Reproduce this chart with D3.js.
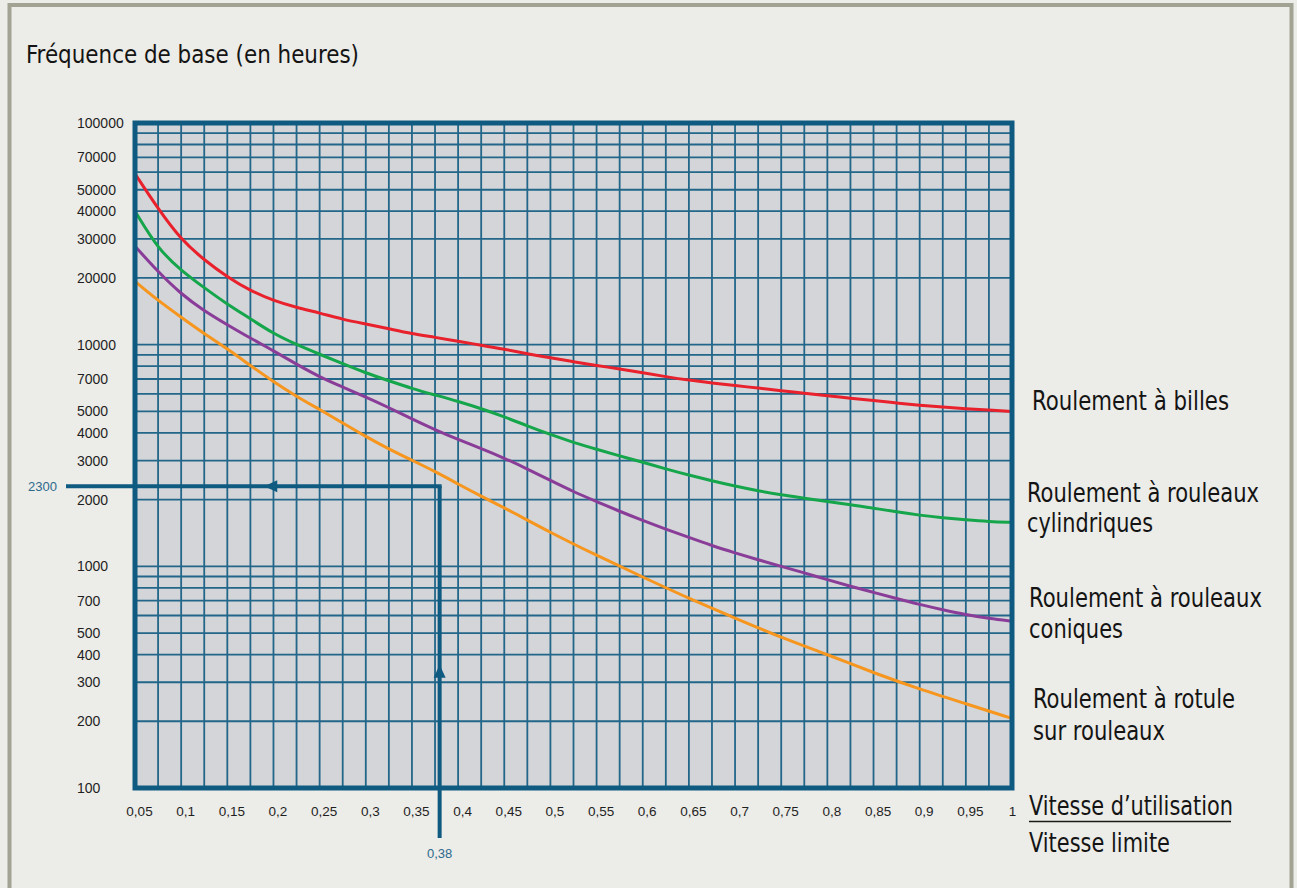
<!DOCTYPE html>
<html>
<head>
<meta charset="utf-8">
<script src="https://cdn.jsdelivr.net/npm/d3@7"></script>
<style>
  html, body { margin: 0; padding: 0; background: #ececE8; }
  svg { display: block; }
</style>
</head>
<body>
<svg id="chart" width="1297" height="888"></svg>
<script>
// ---- data ----------------------------------------------------------------
// x: ratio "vitesse d'utilisation / vitesse limite"; y: base frequency in hours
const ratioSteps = [0.05, 0.075, 0.1, 0.125, 0.15, 0.175, 0.2, 0.225, 0.25, 0.275,
  0.3, 0.325, 0.35, 0.375, 0.4, 0.425, 0.45, 0.475, 0.5, 0.525,
  0.55, 0.575, 0.6, 0.625, 0.65, 0.675, 0.7, 0.725, 0.75, 0.775,
  0.8, 0.825, 0.85, 0.875, 0.9, 0.925, 0.95, 0.975, 1.0];

const billes = [59000, 41000, 29700, 24100, 20200, 17500, 15800, 14700, 13900, 13000,
  12400, 11800, 11200, 10800, 10350, 9950, 9550, 9100, 8720, 8380,
  8050, 7780, 7470, 7170, 6910, 6720, 6540, 6370, 6200, 6040,
  5880, 5740, 5590, 5460, 5330, 5230, 5140, 5070, 5000];

const cylindriques = [40000, 27000, 21600, 18060, 15200, 13100, 11200, 10000, 9050, 8200,
  7450, 6870, 6340, 5930, 5550, 5150, 4730, 4300, 3930, 3620,
  3370, 3150, 2950, 2750, 2580, 2430, 2300, 2190, 2100, 2030,
  1960, 1900, 1830, 1760, 1700, 1655, 1620, 1590, 1580];

const coniques = [27800, 21300, 16900, 14200, 12300, 10700, 9400, 8150, 7150, 6440,
  5800, 5200, 4620, 4130, 3730, 3400, 3080, 2750, 2440, 2170,
  1960, 1770, 1610, 1470, 1350, 1240, 1150, 1070, 1000, 935,
  870, 813, 763, 716, 673, 637, 605, 582, 565];

const ratioRotule = [0.05, 0.075, 0.1, 0.125, 0.15, 0.175, 0.2, 0.225, 0.25, 0.275,
  0.3, 0.325, 0.35, 0.375, 0.4, 0.425, 0.45, 0.5, 0.55, 0.6,
  0.65, 0.7, 0.75, 0.8, 0.85, 0.9, 0.95, 1.0];
const rotule = [19300, 15800, 13300, 11200, 9580, 8050, 6800, 5840, 5100, 4430,
  3850, 3380, 3010, 2680, 2350, 2070, 1840, 1420, 1120, 895,
  716, 584, 477, 400, 331, 279, 240, 206];

const seriesNames = ["Roulement à billes", "Roulement à rouleaux cylindriques",
  "Roulement à rouleaux coniques", "Roulement à rotule sur rouleaux"];
const seriesColors = ["#e8212c", "#15a54b", "#8a3d98", "#f7961e"];

const hourTicks = [100000, 70000, 50000, 40000, 30000, 20000, 10000, 7000, 5000, 4000,
  3000, 2000, 1000, 700, 500, 400, 300, 200, 100];
const ratioTicks = [0.05, 0.1, 0.15, 0.2, 0.25, 0.3, 0.35, 0.4, 0.45, 0.5,
  0.55, 0.6, 0.65, 0.7, 0.75, 0.8, 0.85, 0.9, 0.95, 1];
const ratioTickLabels = ["0,05", "0,1", "0,15", "0,2", "0,25", "0,3", "0,35", "0,4", "0,45", "0,5",
  "0,55", "0,6", "0,65", "0,7", "0,75", "0,8", "0,85", "0,9", "0,95", "1"];

// worked example: ratio 0.38 gives 2300 h
const exampleRatio = 0.38;
const exampleHours = 2300;
const exampleRatioLabel = "0,38";
const exampleHoursLabel = "2300";

// ---- drawing -------------------------------------------------------------
const svg = d3.select("#chart");
const W = 1297, H = 888;
const plot = { left: 135, right: 1012, top: 123, bottom: 788 };

const x = d3.scaleLinear().domain([0.05, 1]).range([plot.left, plot.right]);
const y = d3.scaleLog().domain([100, 100000]).range([plot.bottom, plot.top]);

const gridColor = "#226689";
const frameBlue = "#0e5a80";
const narrow = "'Liberation Sans Narrow', 'DejaVu Sans Condensed', 'Arial Narrow', sans-serif";
const regular = "'Liberation Sans', Arial, sans-serif";

// page background and outer frame
svg.append("rect").attr("width", W).attr("height", H).attr("fill", "#ecece8");
svg.append("rect")
  .attr("x", 9.5).attr("y", 5).attr("width", 1282).attr("height", 900)
  .attr("fill", "none").attr("stroke", "#a2a392").attr("stroke-width", 4);

// title
svg.append("text")
  .attr("x", 26).attr("y", 63)
  .attr("font-family", narrow).attr("font-size", 25).attr("fill", "#141414")
  .attr("textLength", 333).attr("lengthAdjust", "spacingAndGlyphs")
  .text("Fréquence de base (en heures)");

// plot background
svg.append("rect")
  .attr("x", plot.left).attr("y", plot.top)
  .attr("width", plot.right - plot.left).attr("height", plot.bottom - plot.top)
  .attr("fill", "#d3d5d8");

// grid: vertical every 0.025, horizontal at 1..9 x 10^k
const vGrid = d3.range(0, 39).map(i => 0.05 + i * 0.025);
const hGrid = [];
[100, 1000, 10000].forEach(dec => { for (let m = 1; m <= 9; m++) hGrid.push(m * dec); });
hGrid.push(100000);

const grid = svg.append("g").attr("stroke", gridColor).attr("stroke-width", 1.8);
grid.selectAll("line.v").data(vGrid).join("line").attr("class", "v")
  .attr("x1", d => x(d)).attr("x2", d => x(d))
  .attr("y1", plot.top).attr("y2", plot.bottom);
grid.selectAll("line.h").data(hGrid).join("line").attr("class", "h")
  .attr("x1", plot.left).attr("x2", plot.right)
  .attr("y1", d => y(d)).attr("y2", d => y(d));

// y axis labels (left aligned)
const yAxis = d3.axisLeft(y).tickValues(hourTicks).tickFormat(d3.format("d")).tickSize(0);
const yg = svg.append("g").attr("transform", `translate(77,0)`).call(yAxis);
yg.select(".domain").remove();
yg.selectAll("text")
  .attr("x", 0).attr("text-anchor", "start")
  .attr("font-family", regular).attr("font-size", 14).attr("fill", "#1f1f1f");

// x axis labels
const xAxis = d3.axisBottom(x).tickValues(ratioTicks)
  .tickFormat((d, i) => ratioTickLabels[i]).tickSize(0);
const xg = svg.append("g").attr("transform", `translate(0,${plot.bottom})`).call(xAxis);
xg.select(".domain").remove();
xg.selectAll("text")
  .attr("y", 18).attr("dx", (d, i) => i === ratioTicks.length - 1 ? 0 : 4)
  .attr("font-family", regular).attr("font-size", 13.5).attr("fill", "#1f1f1f");

// curves
const line = d3.line().x(d => x(d[0])).y(d => y(d[1])).curve(d3.curveBasis);
const curves = [
  d3.zip(ratioSteps, billes),
  d3.zip(ratioSteps, cylindriques),
  d3.zip(ratioSteps, coniques),
  d3.zip(ratioRotule, rotule)
];
svg.append("g").selectAll("path").data(curves).join("path")
  .attr("d", line)
  .attr("fill", "none")
  .attr("stroke", (d, i) => seriesColors[i])
  .attr("stroke-width", 3)
  .attr("stroke-linecap", "round");

// worked example: horizontal reading line and vertical reading line
const ex = x(exampleRatio), ey = y(exampleHours);
const ann = svg.append("g").attr("stroke", frameBlue).attr("stroke-width", 4).attr("fill", "none");
ann.append("line").attr("x1", 66).attr("x2", ex + 2).attr("y1", ey).attr("y2", ey);
ann.append("line").attr("x1", ex).attr("x2", ex).attr("y1", ey).attr("y2", plot.bottom + 50);

// arrow heads
const hx = x(0.19);
svg.append("path")
  .attr("d", `M${hx},${ey} L${hx + 13},${ey - 6} L${hx + 13},${ey + 6} Z`)
  .attr("fill", frameBlue);
const vy = y(360);
svg.append("path")
  .attr("d", `M${ex},${vy} L${ex - 6},${vy + 13} L${ex + 6},${vy + 13} Z`)
  .attr("fill", frameBlue);

svg.append("text")
  .attr("x", 57).attr("y", ey).attr("dy", "0.35em").attr("text-anchor", "end")
  .attr("font-family", regular).attr("font-size", 13).attr("fill", "#2c6a8c")
  .text(exampleHoursLabel);
svg.append("text")
  .attr("x", ex).attr("y", plot.bottom + 70).attr("text-anchor", "middle")
  .attr("font-family", regular).attr("font-size", 13).attr("fill", "#2c6a8c")
  .text(exampleRatioLabel);

// plot frame
svg.append("rect")
  .attr("x", plot.left).attr("y", plot.top)
  .attr("width", plot.right - plot.left).attr("height", plot.bottom - plot.top)
  .attr("fill", "none").attr("stroke", frameBlue).attr("stroke-width", 5);

// series labels on the right
const labelLines = [
  { text: "Roulement à billes", x: 1032, y: 410, w: 197 },
  { text: "Roulement à rouleaux", x: 1027, y: 502, w: 232 },
  { text: "cylindriques", x: 1027, y: 532, w: 126 },
  { text: "Roulement à rouleaux", x: 1029, y: 607, w: 233 },
  { text: "coniques", x: 1029, y: 638, w: 94 },
  { text: "Roulement à rotule", x: 1033, y: 708, w: 202 },
  { text: "sur rouleaux", x: 1033, y: 740, w: 132 },
  { text: "Vitesse d’utilisation", x: 1029, y: 815, w: 204 },
  { text: "Vitesse limite", x: 1029, y: 852, w: 141 }
];
svg.append("g").selectAll("text").data(labelLines).join("text")
  .attr("x", d => d.x).attr("y", d => d.y)
  .attr("font-family", narrow).attr("font-size", 26).attr("fill", "#141414")
  .attr("textLength", d => d.w).attr("lengthAdjust", "spacingAndGlyphs")
  .text(d => d.text);

// fraction bar of the x-axis title
svg.append("line")
  .attr("x1", 1029).attr("x2", 1231).attr("y1", 821.5).attr("y2", 821.5)
  .attr("stroke", "#1a1a1a").attr("stroke-width", 1.6);
</script>
</body>
</html>
